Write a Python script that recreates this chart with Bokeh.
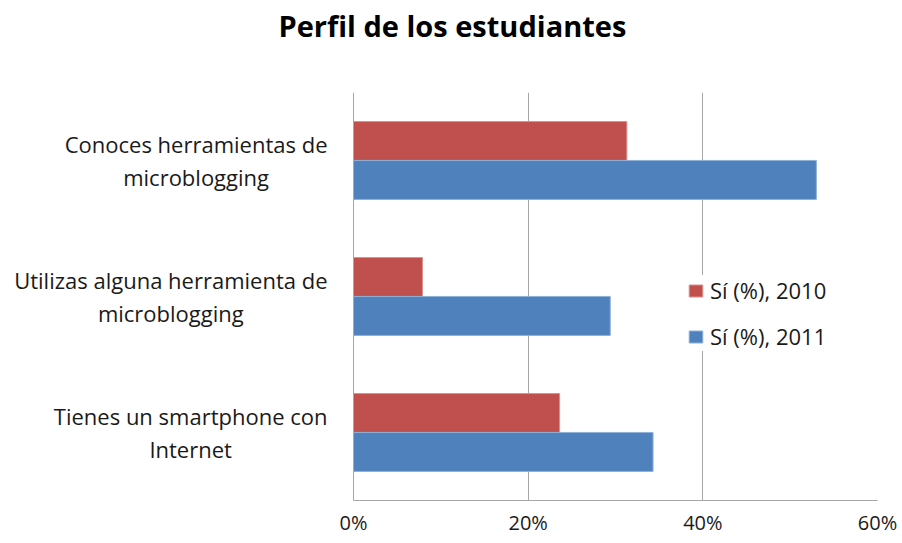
from bokeh.plotting import figure
from bokeh.models import (FactorRange, Range1d, FixedTicker, Legend, Title,
                          LegendItem, ColumnDataSource)
from bokeh.core.properties import value
from bokeh.transform import dodge
from bokeh.embed import file_html
from bokeh.resources import INLINE

# ---- data ----
title_text = "Perfil de los estudiantes"
categories = [
    "Conoces herramientas de\nmicroblogging",
    "Utilizas alguna herramienta de\nmicroblogging",
    "Tienes un smartphone con\nInternet",
]
series_names = ["Sí (%), 2010", "Sí (%), 2011"]
values_2010 = [31.3, 7.9, 23.6]
values_2011 = [53.0, 29.4, 34.3]
x_ticks = [0, 20, 40, 60]
tick_labels = ["0%", "20%", "40%", "60%"]

# ---- style / layout ----
FONT = "Open Sans"
RED = "#C0504D"
BLUE = "#4F81BD"
GRID = "#a6a6a6"
TXT = "#1a1a1a"
LABEL_AREA = 353          # px left of the value axis, used for category labels
AXIS_W = 524              # px from 0% to 60%
X_MAX = 60
X_MIN = -X_MAX * LABEL_AREA / AXIS_W
LABEL_X = -X_MAX * 26 / AXIS_W   # labels end 26px left of the 0% line

source = ColumnDataSource(dict(cat=categories, v2010=values_2010, v2011=values_2011))

p = figure(
    y_range=FactorRange(factors=list(reversed(categories)), range_padding=0),
    x_range=Range1d(X_MIN, X_MAX),
    frame_width=LABEL_AREA + AXIS_W, frame_height=408,
    min_border_left=0, min_border_right=25, min_border_top=90, min_border_bottom=45,
    output_backend="svg", toolbar_location=None,
)
p.outline_line_color = None
p.background_fill_color = "white"

# title, with a spacer between it and the plot area
p.title.text = title_text
p.title.align = "left"
p.title.offset = 278
p.title.text_font = FONT
p.title.text_font_size = "29px"
p.title.text_font_style = "bold"
p.title.text_color = "black"
p.title.standoff = 6
p.add_layout(Title(text=" ", text_font_size="1px", standoff=42), "above")

r1 = p.hbar(y=dodge("cat", 0.143, range=p.y_range), left=0, right="v2010", height=0.287,
            source=source, fill_color=RED, line_color="#d9908e", line_width=1)
r2 = p.hbar(y=dodge("cat", -0.143, range=p.y_range), left=0, right="v2011", height=0.287,
            source=source, fill_color=BLUE, line_color="#8fb0d8", line_width=1)

# category labels: lines centred, block right-aligned next to the axis
common = dict(x=LABEL_X, y="cat", text="cat", source=source, text_baseline="middle",
              text_font=value(FONT), text_font_size=value("22px"), text_color=TXT,
              text_line_height=1.07)
try:
    p.text(text_align="center", anchor=value("center_right"), **common)
except Exception:
    p.text(text_align="right", **common)

# x axis
p.xaxis.ticker = FixedTicker(ticks=x_ticks)
p.xaxis.bounds = (0, X_MAX)
p.xaxis.major_label_overrides = {t: l for t, l in zip(x_ticks, tick_labels)}
p.xaxis.axis_line_color = GRID
p.xaxis.major_tick_line_color = None
p.xaxis.major_tick_out = 0
p.xaxis.major_tick_in = 0
p.xaxis.minor_tick_line_color = None
p.xaxis.major_label_text_font = FONT
p.xaxis.major_label_text_font_size = "20px"
p.xaxis.major_label_text_color = TXT
p.xaxis.major_label_standoff = 8

p.yaxis.visible = False

# value grid (the 0% line doubles as the category axis line)
p.xgrid.ticker = FixedTicker(ticks=x_ticks)
p.xgrid.grid_line_color = GRID
p.ygrid.grid_line_color = None

# legend
legend = Legend(items=[LegendItem(label=series_names[0], renderers=[r1]),
                       LegendItem(label=series_names[1], renderers=[r2])],
                location=(LABEL_AREA + 334, 149), padding=6, margin=0, spacing=16,
                glyph_width=17, glyph_height=15, label_height=30, label_standoff=6,
                label_text_font=FONT, label_text_font_size="22px", label_text_color=TXT,
                border_line_color=None, background_fill_color="white",
                background_fill_alpha=1.0)
p.add_layout(legend)

open("out.html", "w").write(file_html(p, INLINE))
